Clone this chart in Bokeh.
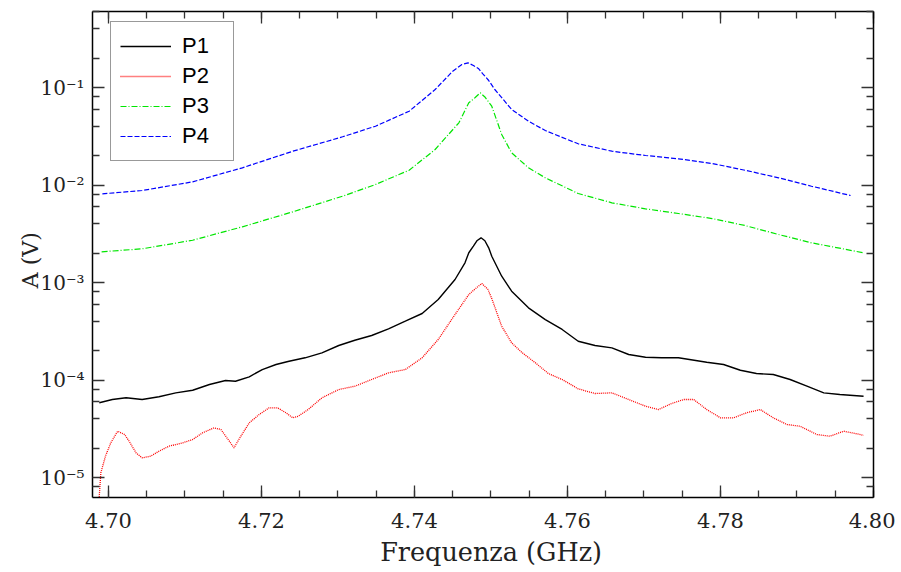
import math
from bokeh.plotting import figure
from bokeh.models import (Range1d, LogAxis, LinearAxis, FixedTicker, SingleIntervalTicker,
                          CustomJSTickFormatter, PrintfTickFormatter, Legend, LegendItem)
from bokeh.embed import file_html
from bokeh.resources import INLINE

# ---------------- data (frequency in GHz, amplitude in V) ----------------
p1_f = [4.6988, 4.7005, 4.7023, 4.7044, 4.7066, 4.7088, 4.7110, 4.7132, 4.7153, 4.7166,
        4.7184, 4.7201, 4.7219, 4.7236, 4.7257, 4.7279, 4.7301, 4.7322, 4.7344, 4.7366,
        4.7388, 4.7410, 4.7431, 4.7453, 4.7466, 4.7471, 4.7477, 4.7482, 4.7487, 4.7492,
        4.7497, 4.7501, 4.7514, 4.7527, 4.7549, 4.7571, 4.7593, 4.7614, 4.7636, 4.7658,
        4.7680, 4.7702, 4.7723, 4.7745, 4.7782, 4.7804, 4.7826, 4.7847, 4.7869, 4.7891,
        4.7913, 4.7935, 4.7956, 4.7987]
p1_a = [5.84e-5, 6.31e-5, 6.57e-5, 6.31e-5, 6.73e-5, 7.39e-5, 7.86e-5, 8.99e-5, 9.88e-5, 9.72e-5,
        1.078e-4, 1.281e-4, 1.442e-4, 1.559e-4, 1.690e-4, 1.901e-4, 2.259e-4, 2.560e-4, 2.860e-4, 3.35e-4,
        4.01e-4, 4.81e-4, 6.69e-4, 1.074e-3, 1.593e-3, 2.02e-3, 2.357e-3, 2.70e-3, 2.874e-3, 2.68e-3,
        2.27e-3, 1.861e-3, 1.16e-3, 8.14e-4, 5.50e-4, 4.17e-4, 3.30e-4, 2.50e-4, 2.259e-4, 2.139e-4,
        1.826e-4, 1.713e-4, 1.690e-4, 1.690e-4, 1.523e-4, 1.442e-4, 1.26e-4, 1.166e-4, 1.139e-4, 1.012e-4,
        8.64e-5, 7.39e-5, 7.10e-5, 6.82e-5]

p2_f = [4.6987, 4.6990, 4.6996, 4.7003, 4.7012, 4.7021, 4.7027, 4.7036, 4.7044, 4.7055,
        4.7066, 4.7079, 4.7097, 4.7110, 4.7123, 4.7138, 4.7147, 4.7158, 4.7164, 4.7173,
        4.7184, 4.7197, 4.7210, 4.7221, 4.7232, 4.7241, 4.7248, 4.7261, 4.7279, 4.7301,
        4.7322, 4.7344, 4.7366, 4.7388, 4.7410, 4.7431, 4.7453, 4.7471, 4.7480, 4.7488,
        4.7496, 4.7501, 4.7514, 4.7527, 4.7540, 4.7558, 4.7575, 4.7593, 4.7614, 4.7636,
        4.7658, 4.7680, 4.7702, 4.7719, 4.7736, 4.7752, 4.7765, 4.7782, 4.7800, 4.7817,
        4.7834, 4.7852, 4.7869, 4.7887, 4.7904, 4.7926, 4.7943, 4.7961, 4.7983, 4.7987]
p2_a = [5.0e-6, 1.117e-5, 1.654e-5, 2.27e-5, 2.985e-5, 2.761e-5, 2.357e-5, 1.792e-5, 1.593e-5, 1.654e-5,
        1.861e-5, 2.094e-5, 2.27e-5, 2.454e-5, 2.874e-5, 3.234e-5, 3.107e-5, 2.357e-5, 2.017e-5, 2.652e-5,
        3.639e-5, 4.43e-5, 5.19e-5, 5.19e-5, 4.61e-5, 4.096e-5, 4.254e-5, 4.98e-5, 6.57e-5, 7.99e-5,
        8.64e-5, 1.012e-4, 1.185e-4, 1.281e-4, 1.690e-4, 2.603e-4, 4.70e-4, 7.53e-4, 8.7e-4, 9.77e-4,
        8.5e-4, 6.85e-4, 3.56e-4, 2.407e-4, 1.928e-4, 1.501e-4, 1.166e-4, 1.012e-4, 8.12e-5, 7.27e-5,
        7.39e-5, 6.31e-5, 5.39e-5, 4.98e-5, 5.74e-5, 6.31e-5, 6.31e-5, 4.98e-5, 4.096e-5, 4.096e-5,
        4.61e-5, 4.98e-5, 4.096e-5, 3.496e-5, 3.358e-5, 2.761e-5, 2.652e-5, 2.985e-5, 2.761e-5, 2.7e-5]

p3_f = [4.6991, 4.7044, 4.7110, 4.7175, 4.7241, 4.7306, 4.7349, 4.7393, 4.7427, 4.7458,
        4.7471, 4.7479, 4.7486, 4.7492, 4.7501, 4.7514, 4.7527, 4.7549, 4.7571, 4.7614,
        4.7658, 4.7702, 4.7745, 4.7789, 4.7832, 4.7876, 4.7919, 4.7987]
p3_a = [2.065e-3, 2.216e-3, 2.715e-3, 3.727e-3, 5.31e-3, 7.68e-3, 1.012e-2, 1.418e-2, 2.312e-2, 4.345e-2,
        6.97e-2, 7.84e-2, 8.82e-2, 8.0e-2, 6.43e-2, 3.296e-2, 2.139e-2, 1.501e-2, 1.185e-2, 8.18e-3,
        6.57e-3, 5.70e-3, 5.10e-3, 4.53e-3, 3.842e-3, 3.107e-3, 2.554e-3, 2.017e-3]

p4_f = [4.6992, 4.7044, 4.7110, 4.7175, 4.7241, 4.7306, 4.7349, 4.7393, 4.7427, 4.7450,
        4.7462, 4.7470, 4.7477, 4.7484, 4.7489, 4.7497, 4.7505, 4.7527, 4.7549, 4.7571,
        4.7614, 4.7658, 4.7702, 4.7745, 4.7789, 4.7832, 4.7876, 4.7919, 4.7970]
p4_a = [8.12e-3, 8.78e-3, 1.078e-2, 1.501e-2, 2.222e-2, 3.122e-2, 4.01e-2, 5.71e-2, 9.54e-2, 0.147,
        0.172, 0.179, 0.168, 0.1555, 0.139, 0.118, 9.54e-2, 5.95e-2, 4.51e-2, 3.62e-2,
        2.646e-2, 2.222e-2, 2.007e-2, 1.857e-2, 1.662e-2, 1.418e-2, 1.185e-2, 9.72e-3, 7.80e-3]

series_names = ["P1", "P2", "P3", "P4"]
x_title = "\u00a0\u00a0Frequenza (GHz)"
y_title = "A (V)\u00a0\u2009"
x_major_ticks_step = 0.02
y_major_ticks = [1e-5, 1e-4, 1e-3, 1e-2, 1e-1]
y_minor_ticks = [m * 10.0 ** k for k in range(-6, 0) for m in (2, 4, 6, 8)]

# ---------------- figure ----------------
W, H = 895, 572
p = figure(width=W, height=H, y_axis_type="log", output_backend="svg", toolbar_location=None,
           x_range=Range1d(4.69791, 4.80), y_range=Range1d(6.24e-6, 0.6018),
           min_border_left=92, min_border_right=W - 92 - 781, min_border_top=11,
           min_border_bottom=H - 11 - 486)
p.grid.visible = False
p.outline_line_color = None
p.background_fill_color = "white"
p.border_fill_color = "white"

xticker = SingleIntervalTicker(interval=x_major_ticks_step, num_minor_ticks=4)
yticker = FixedTicker(ticks=y_major_ticks, minor_ticks=y_minor_ticks)

sup_code = """
const e = Math.round(Math.log10(tick));
const m = {'-':'\u207b','0':'\u2070','1':'\u00b9','2':'\u00b2','3':'\u00b3','4':'\u2074',
           '5':'\u2075','6':'\u2076','7':'\u2077','8':'\u2078','9':'\u2079'};
return '10' + String(e).split('').map(c => m[c]).join('');
"""

bottom = p.xaxis[0]
left = p.yaxis[0]
bottom.ticker = xticker
bottom.formatter = PrintfTickFormatter(format="%.2f")
left.ticker = yticker
left.formatter = CustomJSTickFormatter(code=sup_code)

top = LinearAxis(ticker=xticker)
right = LogAxis(ticker=yticker)
p.add_layout(top, "above")
p.add_layout(right, "right")

for ax in (bottom, left, top, right):
    ax.major_tick_in = 12
    ax.major_tick_out = 0
    ax.minor_tick_in = 7
    ax.minor_tick_out = 0
    ax.axis_line_color = "black"
    ax.axis_line_width = 1.5
    ax.major_tick_line_color = "#333333"
    ax.minor_tick_line_color = "#333333"
    ax.major_tick_line_width = 1.3
    ax.minor_tick_line_width = 1.3
    ax.major_label_text_font = "DejaVu Serif"
    ax.major_label_text_font_size = "21px"
    ax.major_label_text_color = "#222222"

for ax in (top, right):
    ax.major_label_text_font_size = "1px"
    ax.major_label_text_color = None
    ax.major_label_standoff = 0

left.major_label_text_font_size = "20px"
bottom.major_label_standoff = 15
left.major_label_standoff = 8

for ax, t in ((bottom, x_title), (left, y_title)):
    ax.axis_label = t
    ax.axis_label_text_font = "DejaVu Serif"
    ax.axis_label_text_font_style = "normal"
    ax.axis_label_text_color = "#222222"
bottom.axis_label_text_font_size = "25.5px"
bottom.axis_label_standoff = 6
left.axis_label_text_font_size = "22px"
left.axis_label_standoff = -6

# ---------------- lines ----------------
r1 = p.line(p1_f, p1_a, line_color="black", line_width=1.4)
r2 = p.line(p2_f, p2_a, line_color="#ff0000", line_width=1.3, line_dash="1 1")
r3 = p.line(p3_f, p3_a, line_color="#00e600", line_width=1.2, line_dash="6 2 1 2")
r4 = p.line(p4_f, p4_a, line_color="#0000ff", line_width=1.2, line_dash="5 2")

legend = Legend(items=[LegendItem(label=n, renderers=[r]) for n, r in zip(series_names, [r1, r2, r3, r4])],
                location=(18, 336), orientation="vertical",
                label_text_font="Liberation Sans", label_text_font_size="22px",
                label_text_color="black",
                glyph_width=51, glyph_height=30, label_height=30, label_width=42,
                label_standoff=11, padding=9, spacing=0, margin=0,
                border_line_color="#333333", border_line_width=1.2,
                background_fill_color="white", background_fill_alpha=1.0)
p.add_layout(legend)

open("out.html", "w").write(file_html(p, INLINE))
